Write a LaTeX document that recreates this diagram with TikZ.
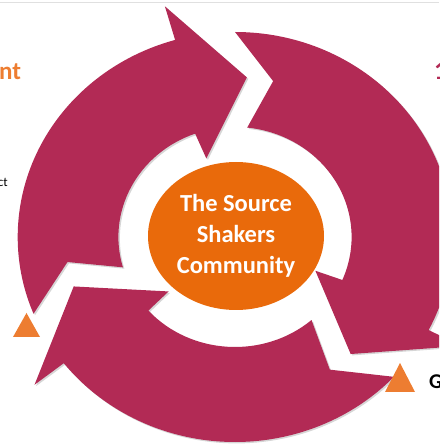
\documentclass[tikz,border=0pt]{standalone}
\usepackage{fontspec}
\setmainfont{Carlito}
\usetikzlibrary{shapes.geometric}

\definecolor{berry}{HTML}{B22A55}
\definecolor{pumpkin}{HTML}{E96A0B}
\definecolor{tangerine}{HTML}{ED7D31}

\tikzset{
  ring/.style={fill=berry},
  ringshadow/.style={fill=black!16, shift={(1.4,-1.4)}},
  hub/.style={ellipse, fill=pumpkin, inner sep=0pt, minimum width=176pt, minimum height=148pt,
    text=white, align=center, font=\bfseries\fontsize{24.5}{31}\selectfont},
  marker/.style={fill=tangerine},
  etq/.style={inner sep=0pt}
}

% one segment of the cycle: #1 style, #2 angle of the tail notch, #3 angle of the tip
\newcommand{\cyclearrow}[3]{%
  \path[#1] (#2+13:205) arc[start angle=#2+13, end angle=#3+20, radius=205]
    -- (#3+20:240) -- (#3:160) -- (#3+23:83) -- (#3+24:110)
    arc[start angle=#3+24, end angle=#2+7, radius=110] -- (#2:160) -- cycle;}

\begin{document}
\begin{tikzpicture}[x=1pt, y=1pt]
  \useasboundingbox (0,0) rectangle (439,447);
  \clip (0,0) rectangle (439,447);
  \draw[black!12, line width=1pt] (0,444) -- (439,444);

  % the three arrows
  \begin{scope}[shift={(235,210)}, xscale=1.06]
    \cyclearrow{ringshadow}{189}{86}
    \cyclearrow{ringshadow}{77}{-47}
    \cyclearrow{ringshadow}{304}{198}
    \cyclearrow{ring}{189}{86}
    \cyclearrow{ring}{77}{-47}
    \cyclearrow{ring}{304}{198}
  \end{scope}

  \node[hub] (community) at (236,211) {The Source\\Shakers\\Community};

  % bullets
  \fill[marker] (13,110) -- (40,110) -- (26.5,134) -- cycle;
  \fill[marker] (385,55) -- (415,55) -- (400,84) -- cycle;

  % labels cut by the frame
  \node[etq, anchor=base west, text=tangerine, font=\bfseries\fontsize{25}{30}\selectfont] (lefttitle) at (-1,367) {nt};
  \node[etq, anchor=base east, font=\fontsize{13}{16}\selectfont] (leftnote) at (8,260) {ct};
  \node[etq, anchor=base west, text=berry, font=\bfseries\fontsize{26}{30}\selectfont] (righttitle) at (434,367) {1};
  \node[etq, anchor=base west, font=\bfseries\fontsize{21}{25}\selectfont] (rightnote) at (429,58) {G};
\end{tikzpicture}
\end{document}
